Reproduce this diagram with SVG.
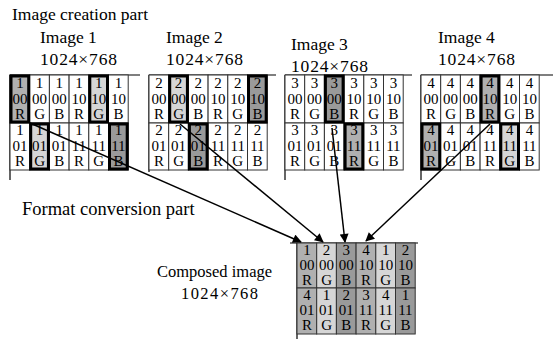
<svg xmlns="http://www.w3.org/2000/svg" width="555" height="339" viewBox="0 0 555 339" font-family="'Liberation Serif', 'DejaVu Serif', serif">
<style>
text{font-family:'Liberation Serif','DejaVu Serif',serif;fill:#000}
.lbl{font-size:17.5px}
.c{font-size:15px;text-anchor:middle}
.cell{fill:#fff;stroke:#333;stroke-width:1}
.R{fill:#b0b0b0}
.G{fill:#d6d6d6}
.B{fill:#9a9a9a}
.hl{fill:none;stroke:#000;stroke-width:3}
.ln{stroke:#000;stroke-width:1.2;fill:none}
.ar{stroke:#000;stroke-width:1.5;fill:none;marker-end:url(#ah)}
</style>
<defs>
<marker id="ah" viewBox="0 0 10 10" refX="9" refY="5" markerWidth="10" markerHeight="9" markerUnits="userSpaceOnUse" orient="auto">
<path d="M0,0 L10,5 L0,10 Z" fill="#000"/>
</marker>
</defs>
<rect width="555" height="339" fill="#fff"/>
<text class="lbl" x="12" y="20">Image creation part</text>

<g id="image1">
<text class="lbl" x="40" y="43">Image 1</text>
<text class="lbl" x="40" y="65" textLength="77">1024×768</text>
<path class="ln" d="M10,75 H140 M10,75 V180"/>
<g>
<rect class="cell R" x="10" y="75" width="19.7" height="48"/><rect class="cell" x="29.7" y="75" width="19.7" height="48"/><rect class="cell" x="49.4" y="75" width="19.7" height="48"/><rect class="cell" x="69.1" y="75" width="19.7" height="48"/><rect class="cell G" x="88.8" y="75" width="19.7" height="48"/><rect class="cell" x="108.5" y="75" width="19.7" height="48"/>
<rect class="cell" x="10" y="123" width="19.7" height="47"/><rect class="cell G" x="29.7" y="123" width="19.7" height="47"/><rect class="cell" x="49.4" y="123" width="19.7" height="47"/><rect class="cell" x="69.1" y="123" width="19.7" height="47"/><rect class="cell" x="88.8" y="123" width="19.7" height="47"/><rect class="cell B" x="108.5" y="123" width="19.7" height="47"/>
</g>
<g class="c">
<text x="19.9" y="88">1</text><text x="19.9" y="104">00</text><text x="19.9" y="119">R</text>
<text x="39.6" y="88">1</text><text x="39.6" y="104">00</text><text x="39.6" y="119">G</text>
<text x="59.3" y="88">1</text><text x="59.3" y="104">00</text><text x="59.3" y="119">B</text>
<text x="79" y="88">1</text><text x="79" y="104">10</text><text x="79" y="119">R</text>
<text x="98.7" y="88">1</text><text x="98.7" y="104">10</text><text x="98.7" y="119">G</text>
<text x="118.4" y="88">1</text><text x="118.4" y="104">10</text><text x="118.4" y="119">B</text>
<text x="19.9" y="135">1</text><text x="19.9" y="151">01</text><text x="19.9" y="166">R</text>
<text x="39.6" y="135">1</text><text x="39.6" y="151">01</text><text x="39.6" y="166">G</text>
<text x="59.3" y="135">1</text><text x="59.3" y="151">01</text><text x="59.3" y="166">B</text>
<text x="79" y="135">1</text><text x="79" y="151">11</text><text x="79" y="166">R</text>
<text x="98.7" y="135">1</text><text x="98.7" y="151">11</text><text x="98.7" y="166">G</text>
<text x="118.4" y="135">1</text><text x="118.4" y="151">11</text><text x="118.4" y="166">B</text>
</g>
<rect class="hl" x="11" y="76" width="17.7" height="46"/>
<rect class="hl" x="89.8" y="76" width="17.7" height="46"/>
<rect class="hl" x="30.7" y="124" width="17.7" height="45"/>
<rect class="hl" x="109.5" y="124" width="17.7" height="45"/>
</g>

<g id="image2">
<text class="lbl" x="166" y="43">Image 2</text>
<text class="lbl" x="166" y="65" textLength="77">1024×768</text>
<path class="ln" d="M149,75 H276 M149,75 V172"/>
<g>
<rect class="cell" x="149" y="75" width="19.7" height="48"/><rect class="cell G" x="168.7" y="75" width="19.7" height="48"/><rect class="cell" x="188.4" y="75" width="19.7" height="48"/><rect class="cell" x="208.1" y="75" width="19.7" height="48"/><rect class="cell" x="227.8" y="75" width="19.7" height="48"/><rect class="cell B" x="247.5" y="75" width="19.7" height="48"/>
<rect class="cell" x="149" y="123" width="19.7" height="47"/><rect class="cell" x="168.7" y="123" width="19.7" height="47"/><rect class="cell B" x="188.4" y="123" width="19.7" height="47"/><rect class="cell" x="208.1" y="123" width="19.7" height="47"/><rect class="cell" x="227.8" y="123" width="19.7" height="47"/><rect class="cell" x="247.5" y="123" width="19.7" height="47"/>
</g>
<g class="c">
<text x="158.9" y="88">2</text><text x="158.9" y="104">00</text><text x="158.9" y="119">R</text>
<text x="178.6" y="88">2</text><text x="178.6" y="104">00</text><text x="178.6" y="119">G</text>
<text x="198.3" y="88">2</text><text x="198.3" y="104">00</text><text x="198.3" y="119">B</text>
<text x="218" y="88">2</text><text x="218" y="104">10</text><text x="218" y="119">R</text>
<text x="237.7" y="88">2</text><text x="237.7" y="104">10</text><text x="237.7" y="119">G</text>
<text x="257.4" y="88">2</text><text x="257.4" y="104">10</text><text x="257.4" y="119">B</text>
<text x="158.9" y="135">2</text><text x="158.9" y="151">01</text><text x="158.9" y="166">R</text>
<text x="178.6" y="135">2</text><text x="178.6" y="151">01</text><text x="178.6" y="166">G</text>
<text x="198.3" y="135">2</text><text x="198.3" y="151">01</text><text x="198.3" y="166">B</text>
<text x="218" y="135">2</text><text x="218" y="151">11</text><text x="218" y="166">R</text>
<text x="237.7" y="135">2</text><text x="237.7" y="151">11</text><text x="237.7" y="166">G</text>
<text x="257.4" y="135">2</text><text x="257.4" y="151">11</text><text x="257.4" y="166">B</text>
</g>
<rect class="hl" x="169.7" y="76" width="17.7" height="46"/>
<rect class="hl" x="248.5" y="76" width="17.7" height="46"/>
<rect class="hl" x="189.4" y="124" width="17.7" height="45"/>
</g>

<g id="image3">
<text class="lbl" x="291" y="50">Image 3</text>
<text class="lbl" x="291" y="72" textLength="77">1024×768</text>
<path class="ln" d="M285,75 H412 M285,75 V180"/>
<g>
<rect class="cell" x="285" y="75" width="19.7" height="48"/><rect class="cell" x="304.7" y="75" width="19.7" height="48"/><rect class="cell B" x="324.4" y="75" width="19.7" height="48"/><rect class="cell" x="344.1" y="75" width="19.7" height="48"/><rect class="cell" x="363.8" y="75" width="19.7" height="48"/><rect class="cell" x="383.5" y="75" width="19.7" height="48"/>
<rect class="cell" x="285" y="123" width="19.7" height="47"/><rect class="cell" x="304.7" y="123" width="19.7" height="47"/><rect class="cell" x="324.4" y="123" width="19.7" height="47"/><rect class="cell R" x="344.1" y="123" width="19.7" height="47"/><rect class="cell" x="363.8" y="123" width="19.7" height="47"/><rect class="cell" x="383.5" y="123" width="19.7" height="47"/>
</g>
<g class="c">
<text x="294.9" y="88">3</text><text x="294.9" y="104">00</text><text x="294.9" y="119">R</text>
<text x="314.6" y="88">3</text><text x="314.6" y="104">00</text><text x="314.6" y="119">G</text>
<text x="334.3" y="88">3</text><text x="334.3" y="104">00</text><text x="334.3" y="119">B</text>
<text x="354" y="88">3</text><text x="354" y="104">10</text><text x="354" y="119">R</text>
<text x="373.7" y="88">3</text><text x="373.7" y="104">10</text><text x="373.7" y="119">G</text>
<text x="393.4" y="88">3</text><text x="393.4" y="104">10</text><text x="393.4" y="119">B</text>
<text x="294.9" y="135">3</text><text x="294.9" y="151">01</text><text x="294.9" y="166">R</text>
<text x="314.6" y="135">3</text><text x="314.6" y="151">01</text><text x="314.6" y="166">G</text>
<text x="334.3" y="135">3</text><text x="334.3" y="151">01</text><text x="334.3" y="166">B</text>
<text x="354" y="135">3</text><text x="354" y="151">11</text><text x="354" y="166">R</text>
<text x="373.7" y="135">3</text><text x="373.7" y="151">11</text><text x="373.7" y="166">G</text>
<text x="393.4" y="135">3</text><text x="393.4" y="151">11</text><text x="393.4" y="166">B</text>
</g>
<rect class="hl" x="325.4" y="76" width="17.7" height="46"/>
<rect class="hl" x="345.1" y="124" width="17.7" height="45"/>
</g>

<g id="image4">
<text class="lbl" x="438" y="43">Image 4</text>
<text class="lbl" x="438" y="65" textLength="77">1024×768</text>
<path class="ln" d="M421,75 H553 M421,75 V180"/>
<g>
<rect class="cell" x="421" y="75" width="19.7" height="48"/><rect class="cell" x="440.7" y="75" width="19.7" height="48"/><rect class="cell" x="460.4" y="75" width="19.7" height="48"/><rect class="cell R" x="480.1" y="75" width="19.7" height="48"/><rect class="cell" x="499.8" y="75" width="19.7" height="48"/><rect class="cell" x="519.5" y="75" width="19.7" height="48"/>
<rect class="cell R" x="421" y="123" width="19.7" height="47"/><rect class="cell" x="440.7" y="123" width="19.7" height="47"/><rect class="cell" x="460.4" y="123" width="19.7" height="47"/><rect class="cell" x="480.1" y="123" width="19.7" height="47"/><rect class="cell G" x="499.8" y="123" width="19.7" height="47"/><rect class="cell" x="519.5" y="123" width="19.7" height="47"/>
</g>
<g class="c">
<text x="430.9" y="88">4</text><text x="430.9" y="104">00</text><text x="430.9" y="119">R</text>
<text x="450.6" y="88">4</text><text x="450.6" y="104">00</text><text x="450.6" y="119">G</text>
<text x="470.3" y="88">4</text><text x="470.3" y="104">00</text><text x="470.3" y="119">B</text>
<text x="490" y="88">4</text><text x="490" y="104">10</text><text x="490" y="119">R</text>
<text x="509.7" y="88">4</text><text x="509.7" y="104">10</text><text x="509.7" y="119">G</text>
<text x="529.4" y="88">4</text><text x="529.4" y="104">10</text><text x="529.4" y="119">B</text>
<text x="430.9" y="135">4</text><text x="430.9" y="151">01</text><text x="430.9" y="166">R</text>
<text x="450.6" y="135">4</text><text x="450.6" y="151">01</text><text x="450.6" y="166">G</text>
<text x="470.3" y="135">4</text><text x="470.3" y="151">01</text><text x="470.3" y="166">B</text>
<text x="490" y="135">4</text><text x="490" y="151">11</text><text x="490" y="166">R</text>
<text x="509.7" y="135">4</text><text x="509.7" y="151">11</text><text x="509.7" y="166">G</text>
<text x="529.4" y="135">4</text><text x="529.4" y="151">11</text><text x="529.4" y="166">B</text>
</g>
<rect class="hl" x="481.1" y="76" width="17.7" height="46"/>
<rect class="hl" x="422" y="124" width="17.7" height="45"/>
<rect class="hl" x="500.8" y="124" width="17.7" height="45"/>
</g>

<text class="lbl" x="22" y="215" style="font-size:18.5px">Format conversion part</text>

<g id="composed">
<text class="lbl" x="157" y="277" style="font-size:16.5px">Composed image</text>
<text class="lbl" x="181" y="299" textLength="77" style="font-size:16.5px">1024×768</text>
<path class="ln" d="M290,243 H418 M297,243 V339"/>
<g>
<rect class="cell R" x="297" y="243" width="19.7" height="45"/><rect class="cell G" x="316.7" y="243" width="19.7" height="45"/><rect class="cell B" x="336.4" y="243" width="19.7" height="45"/><rect class="cell R" x="356.1" y="243" width="19.7" height="45"/><rect class="cell G" x="375.8" y="243" width="19.7" height="45"/><rect class="cell B" x="395.5" y="243" width="19.7" height="45"/>
<rect class="cell R" x="297" y="288" width="19.7" height="46"/><rect class="cell G" x="316.7" y="288" width="19.7" height="46"/><rect class="cell B" x="336.4" y="288" width="19.7" height="46"/><rect class="cell R" x="356.1" y="288" width="19.7" height="46"/><rect class="cell G" x="375.8" y="288" width="19.7" height="46"/><rect class="cell B" x="395.5" y="288" width="19.7" height="46"/>
</g>
<g class="c">
<text x="306.9" y="255">1</text><text x="306.9" y="270">00</text><text x="306.9" y="285">R</text>
<text x="326.6" y="255">2</text><text x="326.6" y="270">00</text><text x="326.6" y="285">G</text>
<text x="346.3" y="255">3</text><text x="346.3" y="270">00</text><text x="346.3" y="285">B</text>
<text x="366" y="255">4</text><text x="366" y="270">10</text><text x="366" y="285">R</text>
<text x="385.7" y="255">1</text><text x="385.7" y="270">10</text><text x="385.7" y="285">G</text>
<text x="405.4" y="255">2</text><text x="405.4" y="270">10</text><text x="405.4" y="285">B</text>
<text x="306.9" y="300">4</text><text x="306.9" y="315">01</text><text x="306.9" y="330">R</text>
<text x="326.6" y="300">1</text><text x="326.6" y="315">01</text><text x="326.6" y="330">G</text>
<text x="346.3" y="300">2</text><text x="346.3" y="315">01</text><text x="346.3" y="330">B</text>
<text x="366" y="300">3</text><text x="366" y="315">11</text><text x="366" y="330">R</text>
<text x="385.7" y="300">4</text><text x="385.7" y="315">11</text><text x="385.7" y="330">G</text>
<text x="405.4" y="300">1</text><text x="405.4" y="315">11</text><text x="405.4" y="330">B</text>
</g>
</g>

<g id="connectors">
<line class="ar" x1="30" y1="123" x2="301" y2="242"/>
<line class="ar" x1="180" y1="124" x2="323" y2="242"/>
<line class="ar" x1="332" y1="128" x2="345" y2="242"/>
<line class="ar" x1="490" y1="124" x2="366" y2="241"/>
</g>
</svg>
